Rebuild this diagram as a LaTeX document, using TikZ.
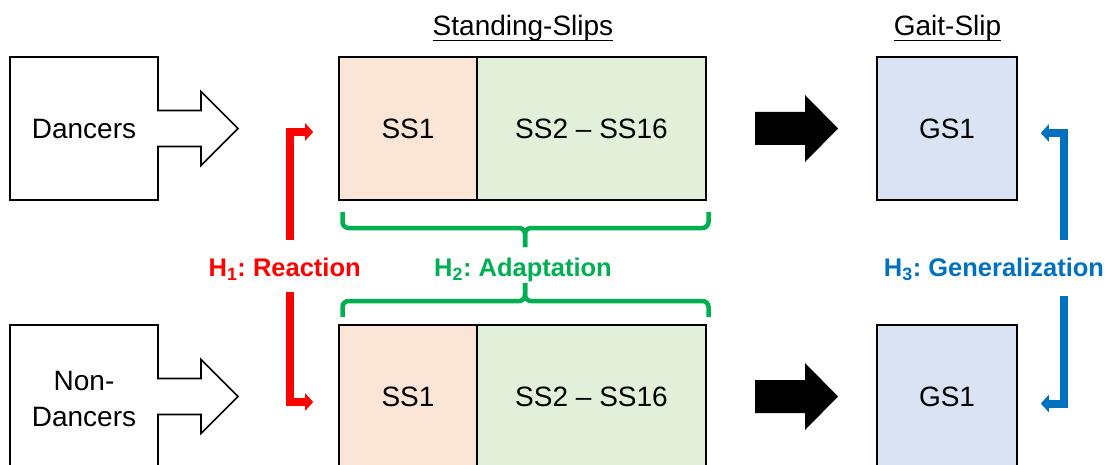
\documentclass[tikz,border=0pt]{standalone}
\usepackage{fontspec}
\setmainfont{Liberation Sans}
\usetikzlibrary{arrows.meta, positioning}

\definecolor{slipone}{HTML}{FBE5D6}
\definecolor{sliprest}{HTML}{E2F0D9}
\definecolor{gaitslip}{HTML}{DAE3F3}
\definecolor{hred}{HTML}{FF0000}
\definecolor{hgreen}{HTML}{00B050}
\definecolor{hblue}{HTML}{0070C0}

% underlined column heading, rule set close to the baseline
\newcommand{\colhead}[1]{\setbox0\hbox{#1}\rlap{\rule[-5.2pt]{\wd0}{1.4pt}}\box0}

\frenchspacing

\begin{document}
\begin{tikzpicture}[x=1pt, y=-1pt, >={Triangle[length=8pt, width=17pt]}, node distance=268pt, on grid, font=\fontsize{28}{36}\selectfont]

        \tikzstyle{trial}=[draw, line width=1.6pt, minimum height=143pt, inner sep=0pt]
        \tikzstyle{callout}=[draw, line width=1.6pt, fill=white]
        \tikzstyle{hline}=[line width=8pt]
        \tikzstyle{hlabel}=[anchor=base, font=\fontsize{25.5}{30}\selectfont\bfseries]
        \tikzstyle{brace}=[hgreen, line width=4.5pt, rounded corners=6pt]

        \useasboundingbox (0,0) rectangle (1107,465);
        \clip (0,0) rectangle (1107,465);

        % column titles
        \node[anchor=base] (t_ss) at (523,36) {\colhead{Standing-Slips}};
        \node[anchor=base] (t_gs) at (947.5,36) {\colhead{Gait-Slip}};

        % group callouts
        \foreach \r in {128.5, 396.5}
            \draw[callout] (10,\r-71.5) -- (158,\r-71.5) -- (158,\r-18) -- (201,\r-18) -- (201,\r-37)
                -- (238,\r) -- (201,\r+37) -- (201,\r+18) -- (158,\r+18) -- (158,\r+71.5) -- (10,\r+71.5) -- cycle;
        \node (dan) at (84,129) {Dancers};
        \node[align=center] (nondan) at (84,399) {Non-\\Dancers};

        % slip trials
        \node[trial, fill=slipone, minimum width=138pt]   (ss1_d) at (408,128.5) {SS1};
        \node[trial, fill=sliprest, minimum width=229pt]  (ssr_d) [right=183.5pt of ss1_d] {SS2 -- SS16};
        \node[trial, fill=gaitslip, minimum width=140pt]  (gs_d) [right=355.5pt of ssr_d] {GS1};

        \node[trial, fill=slipone, minimum width=138pt]   (ss1_n) [below=of ss1_d] {SS1};
        \node[trial, fill=sliprest, minimum width=229pt]  (ssr_n) [below=of ssr_d] {SS2 -- SS16};
        \node[trial, fill=gaitslip, minimum width=140pt]  (gs_n) [below=of gs_d] {GS1};

        % block arrows standing -> gait
        \foreach \r in {128.5, 396.5}
            \fill (755,\r-16.5) -- (805,\r-16.5) -- (805,\r-33.5) -- (838,\r) -- (805,\r+33.5)
                -- (805,\r+16.5) -- (755,\r+16.5) -- cycle;

        % hypotheses
        \node[hlabel, text=hred]   (h1) at (284.7,276.5) {H\textsubscript{1}: Reaction};
        \node[hlabel, text=hgreen] (h2) at (523,276.5) {H\textsubscript{2}: Adaptation};
        \node[hlabel, text=hblue]  (h3) at (994,276.5) {H\textsubscript{3}: Generalization};

        \coordinate (r_up) at (290,240);
        \coordinate (r_dn) at (290,292);
        \coordinate (g_up) at (1064,240);
        \coordinate (g_dn) at (1064,296);

        \draw[hline, hred, ->] (r_up) |- ([xshift=-25pt, yshift=-3.5pt]ss1_d.west);
        \draw[hline, hred, ->] (r_dn) |- ([xshift=-25pt, yshift=-5.5pt]ss1_n.west);
        \draw[hline, hblue, ->] (g_up) |- ([xshift=23pt, yshift=-4.5pt]gs_d.east);
        \draw[hline, hblue, ->] (g_dn) |- ([xshift=23pt, yshift=-7pt]gs_n.east);

        \draw[brace] (342.5,212) |- (525,228) -- (525,247);
        \draw[brace] (708.5,212) |- (525,228) -- (525,247);
        \draw[brace] (342.5,317) |- (525,301) -- (525,283);
        \draw[brace] (708.5,317) |- (525,301) -- (525,283);

\end{tikzpicture}
\end{document}
